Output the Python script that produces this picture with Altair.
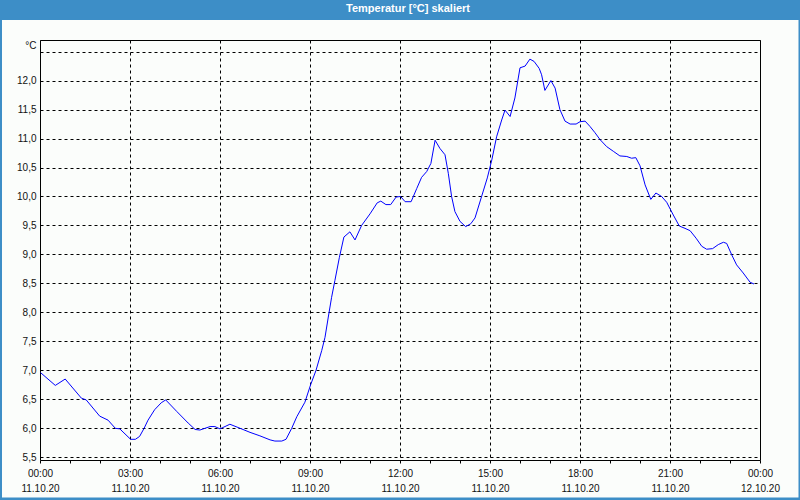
import altair as alt
import pandas as pd

# time of day in hours (11.10.20 00:00 .. 12.10.20 00:00) and temperature in °C
hours = [0.02, 0.51, 0.84, 1.38, 1.54, 1.99, 2.27, 2.51, 2.66, 3.02, 3.18, 3.32, 3.47, 3.60,
         3.82, 4.04, 4.19, 4.56, 4.94, 5.17, 5.33, 5.67, 5.83, 6.00, 6.33, 6.67, 7.00, 7.33,
         7.67, 7.83, 8.06, 8.20, 8.39, 8.56, 8.83, 9.02, 9.20, 9.39, 9.50, 9.61, 9.72, 9.83,
         9.98, 10.13, 10.33, 10.50, 10.72, 11.00, 11.24, 11.36, 11.53, 11.69, 11.87, 12.02,
         12.17, 12.37, 12.56, 12.72, 12.89, 13.03, 13.17, 13.33, 13.50, 13.61, 13.72, 13.83,
         14.00, 14.19, 14.36, 14.50, 14.72, 14.91, 15.06, 15.22, 15.39, 15.50, 15.67, 15.83,
         16.00, 16.17, 16.33, 16.47, 16.64, 16.72, 16.83, 17.03, 17.17, 17.33, 17.50, 17.67,
         17.87, 18.00, 18.17, 18.33, 18.50, 18.67, 18.89, 19.11, 19.33, 19.56, 19.72, 19.86,
         20.00, 20.17, 20.36, 20.53, 20.72, 20.89, 21.11, 21.31, 21.50, 21.67, 21.87, 22.06,
         22.22, 22.42, 22.61, 22.78, 22.89, 23.06, 23.22, 23.44, 23.67, 23.80]
temps = [6.96, 6.74, 6.85, 6.52, 6.49, 6.21, 6.14, 6.00, 5.99, 5.81, 5.81, 5.86, 6.00, 6.14,
         6.32, 6.44, 6.49, 6.29, 6.09, 5.98, 5.97, 6.03, 6.03, 5.99, 6.07, 6.00, 5.93, 5.87,
         5.80, 5.78, 5.78, 5.81, 6.00, 6.20, 6.45, 6.75, 7.00, 7.34, 7.57, 7.92, 8.26, 8.55,
         8.95, 9.30, 9.39, 9.25, 9.50, 9.70, 9.89, 9.92, 9.86, 9.86, 9.99, 10.00,
         9.91, 9.91, 10.14, 10.33, 10.43, 10.57, 10.97, 10.83, 10.72, 10.40, 10.00, 9.74,
         9.57, 9.48, 9.53, 9.63, 10.00, 10.32, 10.63, 11.03, 11.32, 11.49, 11.38, 11.70,
         12.22, 12.25, 12.37, 12.33, 12.21, 12.10, 11.83, 12.00, 11.87, 11.50, 11.30, 11.25,
         11.25, 11.29, 11.30, 11.21, 11.10, 10.98, 10.86, 10.78, 10.70, 10.69, 10.66, 10.67,
         10.53, 10.20, 9.95, 10.06, 10.00, 9.90, 9.68, 9.49, 9.45, 9.41, 9.28, 9.14,
         9.09, 9.10, 9.17, 9.21, 9.19, 8.99, 8.82, 8.68, 8.52, 8.49]

x_ticks = list(range(0, 25))
y_ticks = [5.5, 6.0, 6.5, 7.0, 7.5, 8.0, 8.5, 9.0, 9.5, 10.0, 10.5, 11.0, 11.5, 12.0, 12.5]
chart_title = "Temperatur [°C] skaliert"

df = pd.DataFrame({"h": hours, "t": temps})

FONT = "Liberation Sans"
BLUE = "#3d8ec7"

x_axis = alt.Axis(
    values=x_ticks, title=None, domain=False,
    tickSize=3, tickColor="black",
    labelExpr="datum.value % 3 != 0 ? '' : (datum.value == 24 ? ['00:00', '12.10.20'] : [format(datum.value, '02d') + ':00', '11.10.20'])",
    labelLineHeight=15, labelPadding=5, labelFont=FONT, labelFontSize=10, labelColor="#111",
    grid=True, gridColor="black", gridDash=[3, 3], gridWidth=1,
    gridOpacity={"condition": {"test": "datum.value % 3 == 0", "value": 1}, "value": 0},
    labelFlush=False, labelOverlap=False,
)
y_axis = alt.Axis(
    values=y_ticks, domain=False, ticks=False, labelPadding=4,
    labelExpr="datum.value > 12.25 ? '' : replace(format(datum.value, '.1f'), '.', ',')",
    labelFont=FONT, labelFontSize=10, labelColor="#111",
    grid=True, gridColor="black", gridDash=[3, 3], gridWidth=1,
    title="°C", titleAngle=0, titleAlign="right", titleBaseline="middle",
    titleX=-4, titleY=5, titleFont=FONT, titleFontSize=10, titleFontWeight="normal",
    titleColor="#111",
)

line = alt.Chart(df).mark_line(color="#0000ff", strokeWidth=1).encode(
    x=alt.X("h:Q", axis=x_axis, scale=alt.Scale(domain=[0, 24], nice=False, zero=False)),
    y=alt.Y("t:Q", axis=y_axis, scale=alt.Scale(domain=[5.453, 12.70], nice=False, zero=False)),
)

deco_df = pd.DataFrame({"a": [0]})
bar = alt.Chart(deco_df).mark_rect(color=BLUE).encode(
    x=alt.value(-40), x2=alt.value(760), y=alt.value(-40), y2=alt.value(-20))
title_txt = alt.Chart(deco_df).mark_text(
    color="white", font=FONT, fontSize=11, fontWeight="bold", align="center", baseline="middle"
).encode(x=alt.value(368), y=alt.value(-31), text=alt.value(chart_title))
left = alt.Chart(deco_df).mark_rect(color=BLUE).encode(
    x=alt.value(-40), x2=alt.value(-38), y=alt.value(-20), y2=alt.value(460))
right = alt.Chart(deco_df).mark_rect(color=BLUE).encode(
    x=alt.value(758.5), x2=alt.value(760), y=alt.value(-20), y2=alt.value(460))
bottom = alt.Chart(deco_df).mark_rect(color=BLUE).encode(
    x=alt.value(-40), x2=alt.value(760), y=alt.value(457.5), y2=alt.value(460))

chart = alt.layer(bar, title_txt, left, right, bottom, line).properties(
    width=720, height=420,
    padding={"left": 40, "top": 40, "right": 40, "bottom": 40},
    autosize=alt.AutoSizeParams(type="none"),
    background="#fbfdfb",
).configure_view(stroke="black", strokeWidth=1)

chart.save("out.html", embed_options={"renderer": "svg", "actions": False})
